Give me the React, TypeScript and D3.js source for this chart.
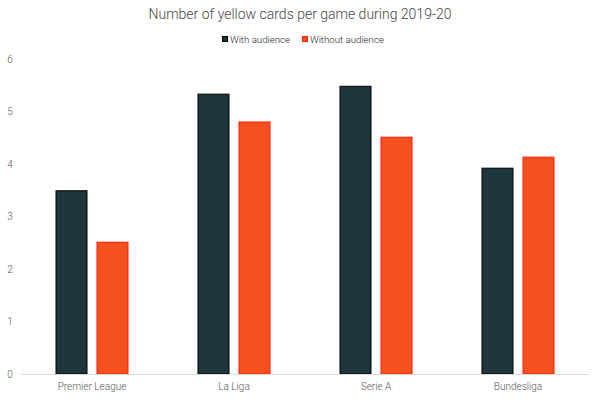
import * as d3 from 'd3';
import { useEffect, useRef } from 'react';

const leagues = ['Premier League', 'La Liga', 'Serie A', 'Bundesliga'];
const seriesNames = ['With audience', 'Without audience'];
const withAudience = [3.5, 5.34, 5.49, 3.93];
const withoutAudience = [2.52, 4.81, 4.52, 4.14];
const yTicks = [0, 1, 2, 3, 4, 5, 6];

const fills = ['#1e353b', '#f4511e'];
const strokes = ['#000000', '#ff1a0a'];

export default function App() {
  const ref = useRef<SVGSVGElement | null>(null);

  useEffect(() => {
    if (!ref.current) return;
    const svg = d3.select(ref.current);
    svg.selectAll('*').remove();

    const width = 600;
    const height = 399;

    svg.append('rect').attr('width', width).attr('height', height).attr('fill', '#fff');

    const x = d3.scaleBand<string>().domain(leagues).range([21, 589]).padding(0);
    const inner = d3.scaleBand<string>().domain(seriesNames).range([-36.5, 36.5]).paddingInner(9 / 41);
    const y = d3.scaleLinear().domain([0, 6]).range([374, 59]);

    // title
    svg.append('text')
      .attr('x', 300)
      .attr('y', 19)
      .attr('text-anchor', 'middle')
      .style('font-family', 'Roboto')
      .style('font-weight', 300)
      .style('font-size', '14px')
      .attr('fill', '#444')
      .text('Number of yellow cards per game during 2019-20');

    // legend
    const legendX = [222, 302];
    seriesNames.forEach((name, i) => {
      svg.append('rect')
        .attr('x', legendX[i] + 0.5)
        .attr('y', 36.5)
        .attr('width', 5)
        .attr('height', 5)
        .attr('fill', fills[i])
        .attr('stroke', strokes[i])
        .attr('stroke-width', 1);
      svg.append('text')
        .attr('x', legendX[i] + 8)
        .attr('y', 43)
        .style('font-family', 'Roboto')
        .style('font-weight', 300)
        .style('font-size', '9.7px')
        .attr('fill', '#222')
        .text(name);
    });

    // y tick labels
    svg.append('g')
      .selectAll('text')
      .data(yTicks)
      .join('text')
      .attr('x', 10)
      .attr('y', d => y(d))
      .attr('dy', '0.35em')
      .attr('text-anchor', 'middle')
      .style('font-family', 'Roboto')
      .style('font-weight', 300)
      .style('font-size', '10px')
      .attr('fill', '#555')
      .text(d => d);

    // bars
    const values = [withAudience, withoutAudience];
    seriesNames.forEach((name, si) => {
      svg.append('g')
        .selectAll('rect')
        .data(leagues)
        .join('rect')
        .attr('x', d => (x(d) ?? 0) + x.bandwidth() / 2 + (inner(name) ?? 0) + 0.5)
        .attr('y', (_, i) => y(values[si][i]) + 0.5)
        .attr('width', inner.bandwidth() - 1)
        .attr('height', (_, i) => y(0) - y(values[si][i]) - 0.5)
        .attr('fill', fills[si])
        .attr('stroke', strokes[si])
        .attr('stroke-width', 1);
    });

    // baseline
    svg.append('line')
      .attr('x1', 21).attr('x2', 589)
      .attr('y1', y(0) + 0.5).attr('y2', y(0) + 0.5)
      .attr('stroke', '#d9d9d9')
      .attr('stroke-width', 1);

    // category labels
    svg.append('g')
      .selectAll('text')
      .data(leagues)
      .join('text')
      .attr('x', d => (x(d) ?? 0) + x.bandwidth() / 2)
      .attr('y', 390)
      .attr('text-anchor', 'middle')
      .style('font-family', 'Roboto')
      .style('font-weight', 300)
      .style('font-size', '10px')
      .attr('fill', '#555')
      .text(d => d);
  }, []);

  return (
    <svg
      ref={ref}
      width={600}
      height={399}
      style={{ position: 'absolute', left: 0, top: 0, display: 'block' }}
    />
  );
}
